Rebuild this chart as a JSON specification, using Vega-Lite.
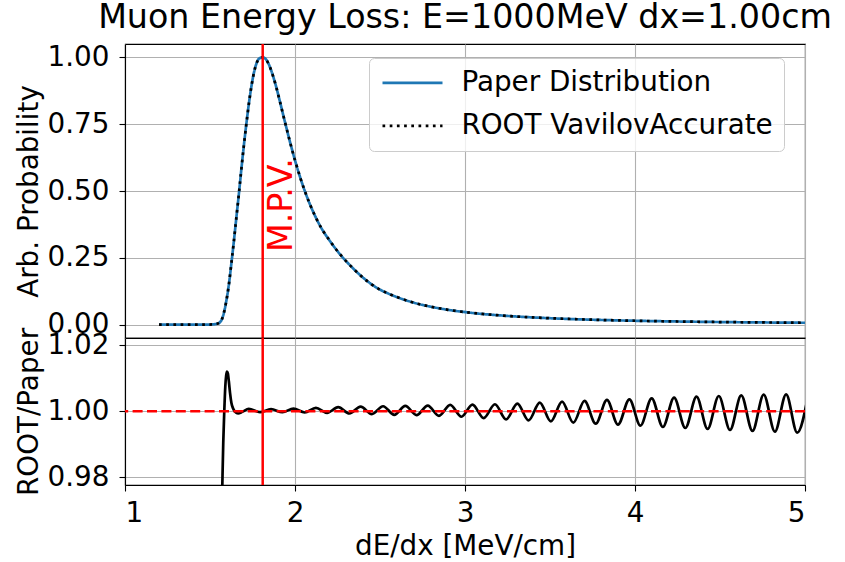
{
  "$schema": "https://vega.github.io/schema/vega-lite/v6.json",
  "padding": {"left": 14, "top": 0, "right": 5, "bottom": 5},
  "bounds": "flush",
  "config": {
    "font": "DejaVu Sans",
    "view": {"stroke": "black", "strokeWidth": 1.1},
    "axis": {"domainColor": "black", "domainWidth": 1.1, "tickColor": "black", "tickWidth": 1.1, "tickSize": 6, "labelFontSize": 27.8, "titleFontSize": 27.8, "labelColor": "black", "titleColor": "black", "titleFontWeight": "normal", "gridColor": "#b0b0b0", "gridWidth": 1.1, "labelPadding": 10},
    "title": {"fontSize": 33.3, "fontWeight": "normal", "color": "black"}
  },
  "datasets": {
    "curve": [
      {"x": 1.20, "Paper Distribution": 0, "ROOT VavilovAccurate": 0},
      {"x": 1.30, "Paper Distribution": 0, "ROOT VavilovAccurate": 0},
      {"x": 1.40, "Paper Distribution": 0, "ROOT VavilovAccurate": 0},
      {"x": 1.48, "Paper Distribution": 0, "ROOT VavilovAccurate": 0},
      {"x": 1.52, "Paper Distribution": 0.001, "ROOT VavilovAccurate": 0.001},
      {"x": 1.545, "Paper Distribution": 0.004, "ROOT VavilovAccurate": 0.004},
      {"x": 1.56, "Paper Distribution": 0.010, "ROOT VavilovAccurate": 0.010},
      {"x": 1.57, "Paper Distribution": 0.020, "ROOT VavilovAccurate": 0.020},
      {"x": 1.58, "Paper Distribution": 0.040, "ROOT VavilovAccurate": 0.040},
      {"x": 1.595, "Paper Distribution": 0.085, "ROOT VavilovAccurate": 0.085},
      {"x": 1.61, "Paper Distribution": 0.145, "ROOT VavilovAccurate": 0.145},
      {"x": 1.625, "Paper Distribution": 0.225, "ROOT VavilovAccurate": 0.225},
      {"x": 1.64, "Paper Distribution": 0.310, "ROOT VavilovAccurate": 0.310},
      {"x": 1.655, "Paper Distribution": 0.400, "ROOT VavilovAccurate": 0.400},
      {"x": 1.67, "Paper Distribution": 0.490, "ROOT VavilovAccurate": 0.490},
      {"x": 1.685, "Paper Distribution": 0.585, "ROOT VavilovAccurate": 0.585},
      {"x": 1.70, "Paper Distribution": 0.675, "ROOT VavilovAccurate": 0.675},
      {"x": 1.715, "Paper Distribution": 0.757, "ROOT VavilovAccurate": 0.757},
      {"x": 1.73, "Paper Distribution": 0.833, "ROOT VavilovAccurate": 0.833},
      {"x": 1.745, "Paper Distribution": 0.897, "ROOT VavilovAccurate": 0.897},
      {"x": 1.76, "Paper Distribution": 0.947, "ROOT VavilovAccurate": 0.947},
      {"x": 1.775, "Paper Distribution": 0.980, "ROOT VavilovAccurate": 0.980},
      {"x": 1.79, "Paper Distribution": 0.996, "ROOT VavilovAccurate": 0.996},
      {"x": 1.81, "Paper Distribution": 1.000, "ROOT VavilovAccurate": 1.000},
      {"x": 1.83, "Paper Distribution": 0.992, "ROOT VavilovAccurate": 0.992},
      {"x": 1.85, "Paper Distribution": 0.968, "ROOT VavilovAccurate": 0.968},
      {"x": 1.87, "Paper Distribution": 0.932, "ROOT VavilovAccurate": 0.932},
      {"x": 1.89, "Paper Distribution": 0.888, "ROOT VavilovAccurate": 0.888},
      {"x": 1.91, "Paper Distribution": 0.838, "ROOT VavilovAccurate": 0.838},
      {"x": 1.93, "Paper Distribution": 0.786, "ROOT VavilovAccurate": 0.786},
      {"x": 1.95, "Paper Distribution": 0.735, "ROOT VavilovAccurate": 0.735},
      {"x": 1.97, "Paper Distribution": 0.685, "ROOT VavilovAccurate": 0.685},
      {"x": 2.00, "Paper Distribution": 0.615, "ROOT VavilovAccurate": 0.615},
      {"x": 2.03, "Paper Distribution": 0.552, "ROOT VavilovAccurate": 0.552},
      {"x": 2.06, "Paper Distribution": 0.496, "ROOT VavilovAccurate": 0.496},
      {"x": 2.09, "Paper Distribution": 0.447, "ROOT VavilovAccurate": 0.447},
      {"x": 2.12, "Paper Distribution": 0.404, "ROOT VavilovAccurate": 0.404},
      {"x": 2.16, "Paper Distribution": 0.356, "ROOT VavilovAccurate": 0.356},
      {"x": 2.20, "Paper Distribution": 0.318, "ROOT VavilovAccurate": 0.318},
      {"x": 2.24, "Paper Distribution": 0.283, "ROOT VavilovAccurate": 0.283},
      {"x": 2.28, "Paper Distribution": 0.252, "ROOT VavilovAccurate": 0.252},
      {"x": 2.33, "Paper Distribution": 0.218, "ROOT VavilovAccurate": 0.218},
      {"x": 2.40, "Paper Distribution": 0.176, "ROOT VavilovAccurate": 0.176},
      {"x": 2.45, "Paper Distribution": 0.151, "ROOT VavilovAccurate": 0.151},
      {"x": 2.50, "Paper Distribution": 0.131, "ROOT VavilovAccurate": 0.131},
      {"x": 2.55, "Paper Distribution": 0.116, "ROOT VavilovAccurate": 0.116},
      {"x": 2.60, "Paper Distribution": 0.103, "ROOT VavilovAccurate": 0.103},
      {"x": 2.70, "Paper Distribution": 0.082, "ROOT VavilovAccurate": 0.082},
      {"x": 2.80, "Paper Distribution": 0.067, "ROOT VavilovAccurate": 0.067},
      {"x": 2.90, "Paper Distribution": 0.0555, "ROOT VavilovAccurate": 0.0555},
      {"x": 3.00, "Paper Distribution": 0.047, "ROOT VavilovAccurate": 0.047},
      {"x": 3.10, "Paper Distribution": 0.040, "ROOT VavilovAccurate": 0.040},
      {"x": 3.20, "Paper Distribution": 0.035, "ROOT VavilovAccurate": 0.035},
      {"x": 3.30, "Paper Distribution": 0.0305, "ROOT VavilovAccurate": 0.0305},
      {"x": 3.40, "Paper Distribution": 0.027, "ROOT VavilovAccurate": 0.027},
      {"x": 3.60, "Paper Distribution": 0.0215, "ROOT VavilovAccurate": 0.0215},
      {"x": 3.80, "Paper Distribution": 0.0175, "ROOT VavilovAccurate": 0.0175},
      {"x": 4.00, "Paper Distribution": 0.0145, "ROOT VavilovAccurate": 0.0145},
      {"x": 4.25, "Paper Distribution": 0.0118, "ROOT VavilovAccurate": 0.0118},
      {"x": 4.50, "Paper Distribution": 0.0097, "ROOT VavilovAccurate": 0.0097},
      {"x": 4.75, "Paper Distribution": 0.0082, "ROOT VavilovAccurate": 0.0082},
      {"x": 5.00, "Paper Distribution": 0.0070, "ROOT VavilovAccurate": 0.0070}
    ],
    "ratio": [
      {"x": 1.562, "ratio": 0.950},
      {"x": 1.5725, "ratio": 0.9776},
      {"x": 1.578, "ratio": 0.9905},
      {"x": 1.584, "ratio": 1.0000},
      {"x": 1.590, "ratio": 1.0075},
      {"x": 1.595, "ratio": 1.0108},
      {"x": 1.600, "ratio": 1.0120},
      {"x": 1.605, "ratio": 1.0115},
      {"x": 1.611, "ratio": 1.0090},
      {"x": 1.618, "ratio": 1.0055},
      {"x": 1.626, "ratio": 1.0025},
      {"x": 1.636, "ratio": 1.0008},
      {"x": 1.648, "ratio": 0.9998},
      {"x": 1.665, "ratio": 0.9993},
      {"x": 1.690, "ratio": 0.9998},
      {"x": 1.728, "ratio": 1.0007},
      {"x": 1.794, "ratio": 0.9997},
      {"x": 1.859, "ratio": 1.0006},
      {"x": 1.926, "ratio": 0.9997},
      {"x": 1.991, "ratio": 1.0008},
      {"x": 2.057, "ratio": 0.9996},
      {"x": 2.123, "ratio": 1.0010},
      {"x": 2.189, "ratio": 0.9995},
      {"x": 2.254, "ratio": 1.0012},
      {"x": 2.320, "ratio": 0.9993},
      {"x": 2.386, "ratio": 1.0014},
      {"x": 2.452, "ratio": 0.9991},
      {"x": 2.518, "ratio": 1.0015},
      {"x": 2.584, "ratio": 0.9989},
      {"x": 2.649, "ratio": 1.0016},
      {"x": 2.715, "ratio": 0.9988},
      {"x": 2.781, "ratio": 1.0017},
      {"x": 2.847, "ratio": 0.9986},
      {"x": 2.913, "ratio": 1.0019},
      {"x": 2.979, "ratio": 0.9983},
      {"x": 3.044, "ratio": 1.0020},
      {"x": 3.110, "ratio": 0.9979},
      {"x": 3.176, "ratio": 1.0021},
      {"x": 3.242, "ratio": 0.9975},
      {"x": 3.308, "ratio": 1.0023},
      {"x": 3.374, "ratio": 0.9972},
      {"x": 3.440, "ratio": 1.0026},
      {"x": 3.505, "ratio": 0.9969},
      {"x": 3.571, "ratio": 1.0029},
      {"x": 3.637, "ratio": 0.9965},
      {"x": 3.703, "ratio": 1.0031},
      {"x": 3.769, "ratio": 0.9962},
      {"x": 3.835, "ratio": 1.0034},
      {"x": 3.900, "ratio": 0.9959},
      {"x": 3.967, "ratio": 1.0036},
      {"x": 4.032, "ratio": 0.9956},
      {"x": 4.098, "ratio": 1.0039},
      {"x": 4.164, "ratio": 0.9952},
      {"x": 4.230, "ratio": 1.0041},
      {"x": 4.296, "ratio": 0.9949},
      {"x": 4.362, "ratio": 1.0044},
      {"x": 4.427, "ratio": 0.9946},
      {"x": 4.493, "ratio": 1.0046},
      {"x": 4.559, "ratio": 0.9943},
      {"x": 4.625, "ratio": 1.0048},
      {"x": 4.691, "ratio": 0.9940},
      {"x": 4.757, "ratio": 1.0050},
      {"x": 4.823, "ratio": 0.9938},
      {"x": 4.889, "ratio": 1.0051},
      {"x": 4.954, "ratio": 0.9935},
      {"x": 5.020, "ratio": 1.0052}
    ]
  },
  "spacing": 0,
  "vconcat": [
    {
      "width": 680,
      "height": 294,
      "title": {"text": "Muon Energy Loss: E=1000MeV dx=1.00cm", "anchor": "middle", "offset": 7},
      "layer": [
        {
          "data": {"name": "curve"},
          "transform": [{"fold": ["Paper Distribution", "ROOT VavilovAccurate"], "as": ["series", "y"]}],
          "mark": {"type": "line", "interpolate": "monotone", "strokeWidth": 2.7},
          "encoding": {
            "x": {"field": "x", "type": "quantitative", "scale": {"domain": [1, 5], "nice": false}, "axis": {"title": null, "labels": false, "ticks": false, "domain": false, "tickSize": 0, "labelPadding": 0, "minExtent": 0, "maxExtent": 0, "values": [1, 2, 3, 4, 5]}},
            "y": {"field": "y", "type": "quantitative", "scale": {"domain": [-0.05, 1.05], "nice": false, "zero": false}, "axis": {"title": "Arb. Probability", "values": [0, 0.25, 0.5, 0.75, 1], "format": ".2f"}},
            "color": {"field": "series", "type": "nominal", "scale": {"domain": ["Paper Distribution", "ROOT VavilovAccurate"], "range": ["#1f77b4", "#000000"]},
              "legend": {"orient": "none", "legendX": 244, "legendY": 14, "title": null, "symbolType": "M-3,0H3", "symbolSize": 400, "symbolStrokeWidth": 2.7, "symbolOffset": 18.6, "labelFontSize": 27.8, "labelColor": "black", "labelLimit": 500, "labelOffset": 35, "padding": 11, "rowPadding": 14, "fillColor": "rgba(255,255,255,0.8)", "strokeColor": "#cccccc", "cornerRadius": 5}},
            "strokeDash": {"field": "series", "type": "nominal", "scale": {"domain": ["Paper Distribution", "ROOT VavilovAccurate"], "range": [[1, 0], [2.7, 4.5]]},
              "legend": {"orient": "none", "legendX": 244, "legendY": 14, "title": null, "symbolType": "M-3,0H3", "symbolSize": 400, "symbolStrokeWidth": 2.7, "symbolOffset": 18.6, "labelFontSize": 27.8, "labelColor": "black", "labelLimit": 500, "labelOffset": 35, "padding": 11, "rowPadding": 14, "fillColor": "rgba(255,255,255,0.8)", "strokeColor": "#cccccc", "cornerRadius": 5}}
          }
        },
        {
          "data": {"values": [{}]},
          "mark": {"type": "rule", "color": "#ff0000", "strokeWidth": 2.5},
          "encoding": {"x": {"datum": 1.81, "type": "quantitative"}}
        },
        {
          "data": {"values": [{}]},
          "mark": {"type": "text", "angle": 270, "align": "left", "baseline": "top", "dy": 3, "fontSize": 33.3, "color": "#ff0000"},
          "encoding": {"x": {"datum": 1.81, "type": "quantitative"}, "y": {"datum": 0.272, "type": "quantitative"}, "text": {"value": "M.P.V."}}
        }
      ]
    },
    {
      "width": 680,
      "height": 147,
      "layer": [
        {
          "data": {"name": "ratio"},
          "mark": {"type": "line", "interpolate": "monotone", "color": "black", "strokeWidth": 2.7, "clip": true},
          "encoding": {
            "x": {"field": "x", "type": "quantitative", "scale": {"domain": [1, 5], "nice": false}, "axis": {"title": "dE/dx [MeV/cm]", "values": [1, 2, 3, 4, 5], "format": "d", "labelPadding": 8, "titlePadding": 6}},
            "y": {"field": "ratio", "type": "quantitative", "scale": {"domain": [0.9776, 1.0222], "nice": false, "zero": false}, "axis": {"title": "ROOT/Paper", "values": [0.98, 1.0, 1.02], "format": ".2f"}}
          }
        },
        {
          "data": {"values": [{}]},
          "mark": {"type": "rule", "color": "#ff0000", "strokeWidth": 2.5, "strokeDash": [10, 4.4]},
          "encoding": {"y": {"datum": 1, "type": "quantitative"}}
        },
        {
          "data": {"values": [{}]},
          "mark": {"type": "rule", "color": "#ff0000", "strokeWidth": 2.5},
          "encoding": {"x": {"datum": 1.81, "type": "quantitative"}}
        }
      ]
    }
  ]
}
